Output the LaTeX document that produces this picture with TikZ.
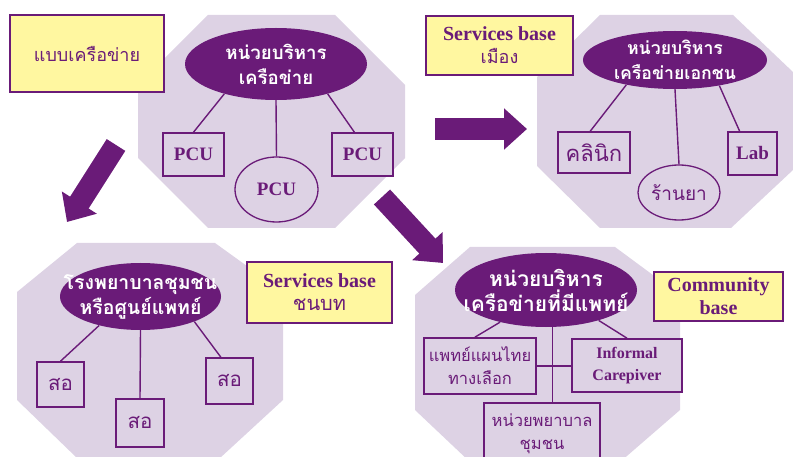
\documentclass[tikz,border=0pt]{standalone}
\usepackage{fontspec}
\setmainfont{Liberation Serif}
\newfontfamily\thai[Script=Thai]{Loma}
\usetikzlibrary{positioning,arrows.meta,shapes.geometric}

\definecolor{netpurple}{RGB}{106,27,120}
\definecolor{netlav}{RGB}{221,210,228}
\definecolor{netyellow}{RGB}{255,247,160}

\begin{document}
\begin{tikzpicture}[
    x=1pt, y=-1pt,
    octa/.style={
        fill=netlav
    },
    hub/.style={
        ellipse,
        fill=netpurple,
        inner sep=0pt
    },
    hubtext/.style={
        text=white,
        align=center,
        font=\thai\bfseries\fontsize{#1}{25}\selectfont
    },
    box/.style={
        rectangle,
        draw=netpurple,
        line width=1.6pt,
        fill=netlav,
        text=netpurple,
        align=center,
        inner sep=0pt,
        font=\thai\fontsize{18}{23}\selectfont
    },
    leaf/.style={
        box,
        ellipse,
        line width=1.3pt
    },
    tsize/.style={
        font=\thai\fontsize{#1}{23}\selectfont
    },
    latin/.style={
        font=\bfseries\fontsize{#1}{22}\selectfont
    },
    note/.style={
        rectangle,
        draw=netpurple,
        line width=2pt,
        fill=netyellow,
        text=netpurple,
        align=center,
        inner sep=0pt,
        font=\bfseries\fontsize{20}{23}\selectfont
    },
    link/.style={
        draw=netpurple,
        line width=1.4pt
    },
    bigarrow/.style={
        draw=netpurple,
        line width=22pt,
        -{Triangle[length=23pt,width=40pt]}
    }
]

\path[use as bounding box] (0,0) rectangle (793,457);
\clip (0,0) rectangle (793,457);

% Octagons
\fill[octa] (208,15) -- (335,15) -- (405,85) -- (405,158) -- (335,228)
    -- (208,228) -- (138,158) -- (138,85) -- cycle;
\fill[octa] (600,15) -- (733,15) -- (793,72) -- (793,170) -- (731,228)
    -- (600,228) -- (537,166) -- (537,77) -- cycle;
\fill[octa] (77,243) -- (215,243) -- (283,292) -- (283,400) -- (220,458)
    -- (77,458) -- (17,400) -- (17,292) -- cycle;
\fill[octa] (470,247) -- (615,247) -- (680,295) -- (680,410) -- (620,462)
    -- (470,462) -- (415,410) -- (415,295) -- cycle;

% Network
\node[note, minimum width=154, minimum height=77] (kindnet) at (87,53.5)
{\thai\mdseries\fontsize{18}{23}\selectfont แบบเครือข่าย};

\node[hub, minimum width=182, minimum height=72,
    label={[hubtext=18.7]center:หน่วยบริหาร\\เครือข่าย}] (hubnet) at (276,64) {};

\node[box, latin=19, minimum width=61, minimum height=43] (pcuL) at (193.5,154.5) {PCU};
\node[leaf, latin=19, minimum width=83, minimum height=65] (pcuM) at (276.5,189.5) {PCU};
\node[box, latin=19, minimum width=61, minimum height=43] (pcuR) at (362.5,154.5) {PCU};

% Urban
\node[note, minimum width=147, minimum height=59] (kindcity) at (499.5,45.5)
{Services base\\{\thai\mdseries\fontsize{18}{23}\selectfont เมือง}};

\node[hub, minimum width=184, minimum height=58,
    label={[hubtext=17.7]center:หน่วยบริหาร\\เครือข่ายเอกชน}] (hubpriv) at (675,60) {};

\node[box, tsize=22, minimum width=72, minimum height=41] (clinic) at (594,152.5) {คลินิก};
\node[leaf, tsize=19, minimum width=82, minimum height=55] (pharm) at (679,192.5) {ร้านยา};
\node[box, latin=19, minimum width=49, minimum height=43] (lab) at (752.5,153.5) {Lab};

% Rural
\node[hub, minimum width=161, minimum height=67,
    label={[hubtext=19.5]center:โรงพยาบาลชุมชน\\หรือศูนย์แพทย์}] (hubhosp) at (140.5,296.5) {};

\node[box, tsize=20.5, minimum width=47, minimum height=45] (soL) at (60.5,384.5) {สอ};
\node[box, tsize=20.5, minimum width=48, minimum height=48] (soM) at (140,423) {สอ};
\node[box, tsize=20.5, minimum width=47, minimum height=46] (soR) at (229.5,381) {สอ};

\node[note, minimum width=145, minimum height=61] (kindrural) at (319.5,292.5)
{Services base\\{\thai\mdseries\fontsize{20}{23}\selectfont ชนบท}};

% Community
\node[hub, minimum width=182, minimum height=74,
    label={[hubtext=21]center:หน่วยบริหาร\\เครือข่ายที่มีแพทย์}] (hubdoc) at (546,290) {};

\node[box, tsize=16.5, minimum width=112, minimum height=56] (thaimed) at (480,366)
{แพทย์แผนไทย\\ทางเลือก};
\node[box, latin=16, minimum width=110, minimum height=53] (carer) at (627,365.5)
{Informal\\Carepiver};
\node[box, tsize=16.5, minimum width=116, minimum height=62] (nurse) at (542,434)
{หน่วยพยาบาล\\ชุมชน};

\node[note, minimum width=129, minimum height=49] (kindcomm) at (718.5,296.5)
{Community\\base};

% Connections
\draw[link] (hubnet.210) -- (pcuL.north);
\draw[link] (hubnet.south) -- (pcuM.north);
\draw[link] (hubnet.330) -- (pcuR.110);

\draw[link] (hubpriv.207) -- (clinic.100);
\draw[link] (hubpriv.south) -- (pharm.north);
\draw[link] (hubpriv.330) -- (lab.120);

\draw[link] (hubhosp.215) -- (soL.north);
\draw[link] (hubhosp.south) -- (soM.north);
\draw[link] (hubhosp.335) -- (soR.110);

\draw[link] (hubdoc.215) -- (thaimed.100);
\draw[link] (hubdoc.280) -- (hubdoc.280 |- nurse.north);
\draw[link] (hubdoc.330) -- (carer.north);
\draw[link] (thaimed.east) -- (thaimed.east -| carer.west);

% Block arrows
\coordinate (toCityA) at (435,129);
\coordinate (toCityB) at (527,129);
\coordinate (toRuralA) at (116,145);
\coordinate (toRuralB) at (67,222);
\coordinate (toCommA) at (382,197);
\coordinate (toCommB) at (443,263);

\draw[bigarrow] (toCityA) -- (toCityB);
\draw[bigarrow] (toRuralA) -- (toRuralB);
\draw[bigarrow] (toCommA) -- (toCommB);

\end{tikzpicture}
\end{document}
